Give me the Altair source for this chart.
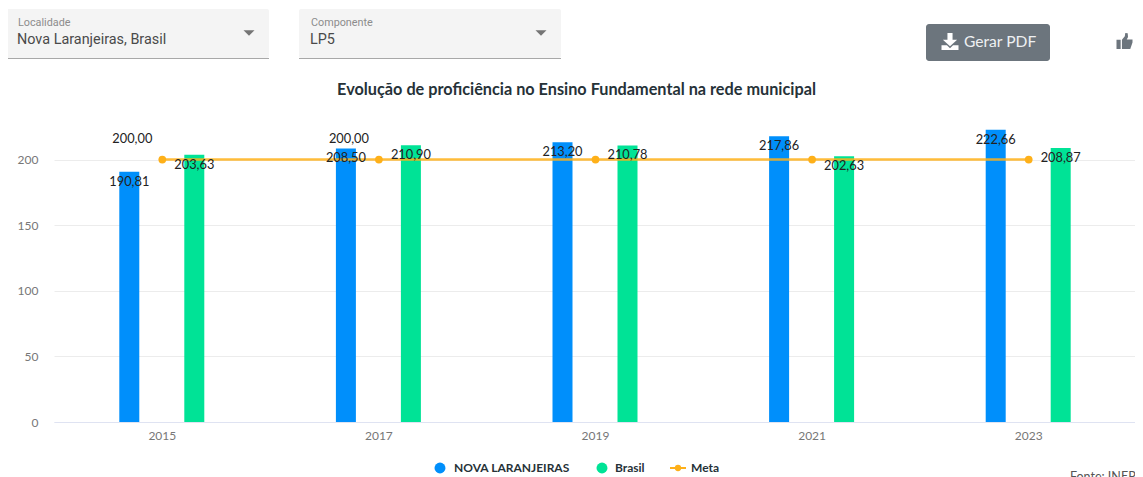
import altair as alt
import pandas as pd

years = ["2015", "2017", "2019", "2021", "2023"]
nova = [190.81, 208.50, 213.20, 217.86, 222.66]
brasil = [203.63, 210.90, 210.78, 202.63, 208.87]
meta = [200.00, 200.00, 200.00, 200.00, 200.00]
meta_label_years = ["2015", "2017"]
y_ticks = [0, 50, 100, 150, 200]
title_text = "Evolução de proficiência no Ensino Fundamental na rede municipal"
filters = [("Localidade", "Nova Laranjeiras, Brasil"), ("Componente", "LP5")]
legend_names = ["NOVA LARANJEIRAS", "Brasil", "Meta"]
source_text = "Fonte: INEP"
button_text = "Gerar PDF"

BLUE, GREEN, ORANGE = "#008ffb", "#00e396", "#feb019"
OX, OY = 54, 94  # page position of the plot origin


def br(v):
    return f"{v:.2f}".replace(".", ",")


def px(x):
    return alt.value(x - OX)


def py(y):
    return alt.value(y - OY)


one = alt.Data(values=[{"k": 1}])


def txt(text, x, y, size=12, color="#333", font="Roboto", weight="normal", align="left"):
    return alt.Chart(one).mark_text(
        text=text, fontSize=size, color=color, font=font, fontWeight=weight,
        align=align, baseline="middle",
    ).encode(x=px(x), y=py(y))


def box(x1, x2, y1, y2, color, radius=0):
    return alt.Chart(one).mark_rect(color=color, cornerRadius=radius).encode(
        x=px(x1), x2=px(x2), y=py(y1), y2=py(y2)
    )


def sym(shape, x, y, size, color):
    return alt.Chart(one).mark_point(
        shape=shape, size=size, filled=True, color=color, opacity=1
    ).encode(x=px(x), y=py(y))


x_enc = alt.X(
    "year:O",
    sort=years,
    scale=alt.Scale(paddingInner=0, paddingOuter=0, domain=years, range=[0, 1083]),
    axis=alt.Axis(
        title=None, labelAngle=0, ticks=False, domainColor="#dfe3f2", domainWidth=1,
        labelColor="#777777", labelFont="Lato", labelFontSize=12, labelPadding=8, grid=False,
    ),
)
y_enc = alt.Y(
    "value:Q",
    scale=alt.Scale(domain=[0, 250], nice=False),
    axis=alt.Axis(
        title=None, values=y_ticks, ticks=False, domain=False, gridColor="#ececec",
        labelColor="#777777", labelFont="Lato", labelFontSize=12, labelPadding=16,
    ),
)

nova_df = pd.DataFrame({"year": years, "value": nova, "label": [br(v) for v in nova]})
brasil_df = pd.DataFrame({"year": years, "value": brasil, "label": [br(v) for v in brasil]})
meta_df = pd.DataFrame({"year": years, "value": meta, "label": [br(v) for v in meta]})
meta_lab_df = meta_df[meta_df["year"].isin(meta_label_years)]

layers = [
    alt.Chart(nova_df).mark_bar(width=20, xOffset=-33, color=BLUE).encode(x=x_enc, y=y_enc),
    alt.Chart(brasil_df).mark_bar(width=20, xOffset=32, color=GREEN).encode(x=x_enc, y=y_enc),
    alt.Chart(meta_df).mark_line(color=ORANGE, strokeWidth=2.5, opacity=0.85).encode(x=x_enc, y=y_enc),
    alt.Chart(meta_df).mark_point(filled=True, size=60, color=ORANGE, opacity=1).encode(x=x_enc, y=y_enc),
]
for df, dx in ((nova_df, -33), (brasil_df, 32)):
    layers.append(
        alt.Chart(df).mark_text(
            xOffset=dx, yOffset=10, fontSize=12.8, color="#222", font="Lato", baseline="middle"
        ).encode(x=x_enc, y=y_enc, text="label:N")
    )
layers.append(
    alt.Chart(meta_lab_df).mark_text(
        xOffset=-30, yOffset=-21, fontSize=12.8, color="#222", font="Lato", baseline="middle"
    ).encode(x=x_enc, y=y_enc, text="label:N")
)

# filter boxes
triangle = "M-1,-0.5L1,-0.5L0,0.5Z"
for (lab, val), (x1, x2) in zip(filters, [(6, 269), (299, 561)]):
    layers += [
        box(x1, x2, 9, 58, "#f4f4f4", 2),
        box(x1, x2, 58, 59, "#a8a8a8"),
        txt(lab, x1 + 12, 23, 10.8, "#8c8c8c"),
        txt(val, x1 + 11, 40, 14.4, "#4a4a4a"),
        sym(triangle, x2 - 20, 33, 121, "#757575"),
    ]

# button and icons
download = "M-0.15,-0.5L0.15,-0.5L0.15,-0.1L0.42,-0.1L0,0.28L-0.42,-0.1L-0.15,-0.1ZM-0.5,0.22L-0.18,0.22L0,0.4L0.18,0.22L0.5,0.22L0.5,0.5L-0.5,0.5Z"
thumb = "M-0.5,-0.08L-0.24,-0.08L-0.24,0.5L-0.5,0.5ZM-0.16,-0.08L0.02,-0.3L0.05,-0.5L0.2,-0.48L0.22,-0.25L0.14,-0.1L0.5,-0.1L0.5,0.1L0.36,0.5L-0.16,0.5Z"
layers += [
    box(926, 1050, 24, 61, "#6c757d", 3),
    sym(download, 950, 41.5, 1156, "#ffffff"),
    txt(button_text, 964, 42, 15.6, "#eef0f2", "Lato"),
    sym(thumb, 1124.5, 41, 1024, "#6c757d"),
]

# legend
for name, (cx, tx) in zip(legend_names[:2], [(440, 454), (602, 615)]):
    color = BLUE if name == legend_names[0] else GREEN
    layers += [
        sym("circle", cx, 468, 120, color),
        txt(name, tx, 468, 12, "#263238", "Lato", "bold"),
    ]
layers += [
    box(670, 686, 467, 469, ORANGE),
    sym("circle", 678, 468, 40, ORANGE),
    txt(legend_names[2], 691, 468, 12, "#263238", "Lato", "bold"),
    txt(source_text, 1070, 477, 12.5, "#555", "Lato"),
]

chart = alt.layer(*layers).properties(
    width=1081,
    height=328,
    padding={"left": OX - 8, "top": OY - 8, "right": 0, "bottom": 477 - 8 - (OY - 8) - 328},
    autosize=alt.AutoSizeParams(type="none"),
    title=alt.TitleParams(
        title_text, font="Lato", fontSize=16.25, fontWeight="bold", color="#263238",
        anchor="middle", dx=-18, offset=-89,
    ),
).configure_view(stroke=None)

chart.save("out.html", embed_options={"renderer": "svg", "actions": False})
